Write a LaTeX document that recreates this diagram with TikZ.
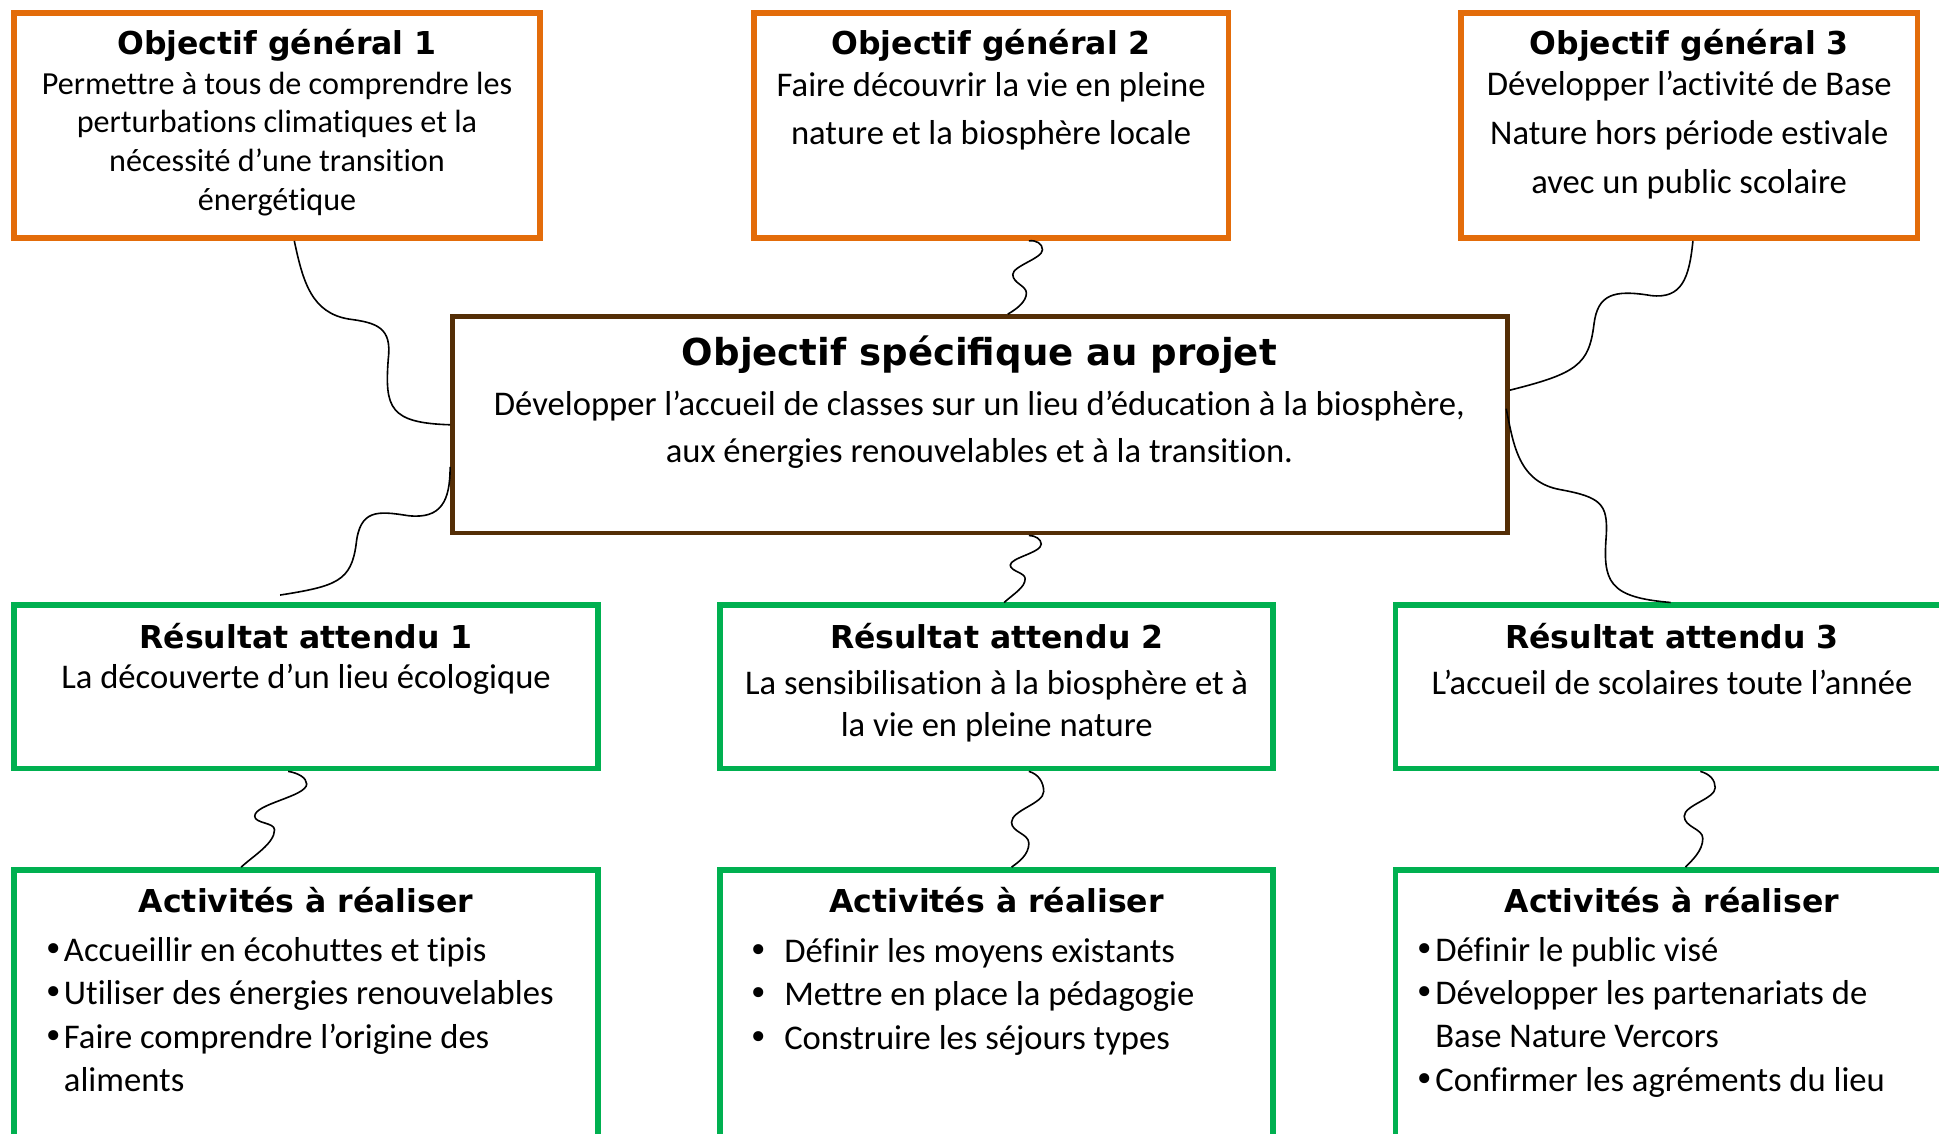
\documentclass[tikz,border=0pt]{standalone}
\usepackage{fontspec}
\setmainfont{Carlito}[Ligatures=NoCommon]
\newfontfamily\titrefont{DejaVu Sans}

\definecolor{orangeobj}{RGB}{227,108,10}
\definecolor{vertres}{RGB}{0,176,80}
\definecolor{brunspec}{RGB}{84,46,6}

\newcommand\puce{{\titrefont •}}

\tikzset{
  cadre/.style={rectangle, line width=4.6pt, inner sep=0pt},
  cadreobj/.style={cadre, draw=orangeobj},
  cadrespec/.style={cadre, draw=brunspec, line width=4pt},
  cadreres/.style={cadre, draw=vertres},
  titre/.style={inner sep=0pt, font=\titrefont\bfseries\fontsize{25.5}{30}\selectfont},
  texte/.style={inner sep=0pt, align=center, font=\fontsize{28}{34}\selectfont},
  liste/.style={inner sep=0pt, align=left, anchor=west, font=\fontsize{28}{35}\selectfont},
  lien/.style={draw=black, line width=1.3pt},
}

\begin{document}
\begin{tikzpicture}[x=1pt,y=-1pt]
  \path[use as bounding box, clip] (0,0) rectangle (1568,917);
  \fill[white] (0,0) rectangle (1568,917);

  % Objectifs généraux
  \node[cadreobj, minimum width=425, minimum height=182] (og1) at (224,101.5) {};
  \node[cadreobj, minimum width=384, minimum height=182] (og2) at (801.5,101.5) {};
  \node[cadreobj, minimum width=369, minimum height=182] (og3) at (1366,101.5) {};

  \node[titre] (og1titre) at (224,37) {Objectif général 1};
  \node[texte, font=\fontsize{26}{31.5}\selectfont] (og1texte) at (224,116.5)
    {Permettre à tous de comprendre les\\perturbations climatiques et la\\nécessité d’une transition\\énergétique};
  \node[titre] (og2titre) at (801.5,37) {Objectif général 2};
  \node[texte, font=\fontsize{28}{39}\selectfont] (og2texte) at (801.5,90)
    {Faire découvrir la vie en pleine\\nature et la biosphère locale};
  \node[titre] (og3titre) at (1366,37) {Objectif général 3};
  \node[texte, font=\fontsize{28}{39.5}\selectfont] (og3texte) at (1366,109.5)
    {Développer l’activité de Base\\Nature hors période estivale\\avec un public scolaire};

  % Objectif spécifique
  \node[cadrespec, minimum width=853, minimum height=175] (spec) at (792.5,343.5) {};
  \node[titre, font=\titrefont\bfseries\fontsize{30}{36}\selectfont] (spectitre) at (792,287) {Objectif spécifique au projet};
  \node[texte, font=\fontsize{28}{38}\selectfont] (spectexte) at (792,347.5)
    {Développer l’accueil de classes sur un lieu d’éducation à la biosphère,\\aux énergies renouvelables et à la transition.};

  % Résultats attendus
  \node[cadreres, minimum width=472, minimum height=132] (ra1) at (247.5,555.5) {};
  \node[cadreres, minimum width=447, minimum height=132] (ra2) at (806,555.5) {};
  \node[cadreres, minimum width=447, minimum height=132] (ra3) at (1352,555.5) {};

  \node[titre] (ra1titre) at (247.5,514) {Résultat attendu 1};
  \node[texte] (ra1texte) at (247.5,549) {La découverte d’un lieu écologique};
  \node[titre] (ra2titre) at (806,514) {Résultat attendu 2};
  \node[texte] (ra2texte) at (806,571) {La sensibilisation à la biosphère et à\\la vie en pleine nature};
  \node[titre] (ra3titre) at (1352,514) {Résultat attendu 3};
  \node[texte] (ra3texte) at (1352,552) {L’accueil de scolaires toute l’année};

  % Activités
  \node[cadreres, minimum width=472, minimum height=250] (act1) at (247.5,828.5) {};
  \node[cadreres, minimum width=447, minimum height=250] (act2) at (806,828.5) {};
  \node[cadreres, minimum width=447, minimum height=250] (act3) at (1352,828.5) {};

  \node[titre] (act1titre) at (247.5,728) {Activités à réaliser};
  \node[liste] (act1liste) at (35,820.5)
    {\puce Accueillir en écohuttes et tipis\\\puce Utiliser des énergies renouvelables\\\puce Faire comprendre l’origine des\\\phantom{\puce}aliments};
  \node[titre] (act2titre) at (806,728) {Activités à réaliser};
  \node[liste] (act2liste) at (605,806)
    {\puce\hspace{12.5pt}Définir les moyens existants\\\puce\hspace{12.5pt}Mettre en place la pédagogie\\\puce\hspace{12.5pt}Construire les séjours types};
  \node[titre] (act3titre) at (1352,728) {Activités à réaliser};
  \node[liste] (act3liste) at (1144,822.5)
    {\puce Définir le public visé\\\puce Développer les partenariats de\\\phantom{\puce}Base Nature Vercors\\\puce Confirmer les agréments du lieu};

  % Liens
  \draw[lien] ([xshift=14]og1.south) .. controls (245,228) and (252,253) .. (282,258)
    .. controls (305,261) and (317,265) .. (314,290)
    .. controls (311,330) and (315,342) .. (spec.west);
  \draw[lien] ([yshift=-34]spec.west) .. controls (364,405) and (357,420) .. (330,417)
    .. controls (305,413) and (291,412) .. (288,440)
    .. controls (284,470) and (272,474) .. ([xshift=-21,yshift=6]ra1.north);
  \draw[lien] ([xshift=3]og3.south) .. controls (1366,225) and (1360,242) .. (1335,239)
    .. controls (1305,234) and (1292,238) .. (1289,262)
    .. controls (1285,295) and (1275,302) .. ([yshift=28]spec.east);
  \draw[lien] ([xshift=-3,yshift=13]spec.east) .. controls (1224,360) and (1228,390) .. (1262,396)
    .. controls (1295,402) and (1300,408) .. (1299,432)
    .. controls (1296,470) and (1300,483) .. ([xshift=-1]ra3.north);

  \draw[lien] ([xshift=30.5]og2.south) .. controls (838,194) and (843,197) .. (843,202)
    .. controls (843,209) and (819,215) .. (819,222)
    .. controls (819,229) and (830,231) .. (830,237)
    .. controls (830,244) and (822,250) .. ([xshift=22.5]spec.north);
  \draw[lien] ([xshift=39.5]spec.south) .. controls (837,433) and (842,436) .. (842,440)
    .. controls (842,447) and (817,451) .. (817,457)
    .. controls (817,462) and (829,463) .. (829,468)
    .. controls (829,475) and (820,480) .. ([xshift=6]ra2.north);
  \draw[lien] ([xshift=-14.5]ra1.south) .. controls (241,625) and (248,629) .. (248,634)
    .. controls (248,644) and (206,650) .. (206,660)
    .. controls (206,666) and (222,665) .. (222,671)
    .. controls (222,682) and (205,692) .. ([xshift=-52.5]act1.north);
  \draw[lien] ([xshift=26]ra2.south) .. controls (840,626) and (844,633) .. (844,640)
    .. controls (844,650) and (818,655) .. (818,665)
    .. controls (818,673) and (832,674) .. (832,682)
    .. controls (832,691) and (824,697) .. ([xshift=12]act2.north);
  \draw[lien] ([xshift=23]ra3.south) .. controls (1383,626) and (1387,631) .. (1387,637)
    .. controls (1387,646) and (1362,651) .. (1362,660)
    .. controls (1362,669) and (1377,670) .. (1377,678)
    .. controls (1377,688) and (1368,696) .. ([xshift=11]act3.north);
\end{tikzpicture}
\end{document}
